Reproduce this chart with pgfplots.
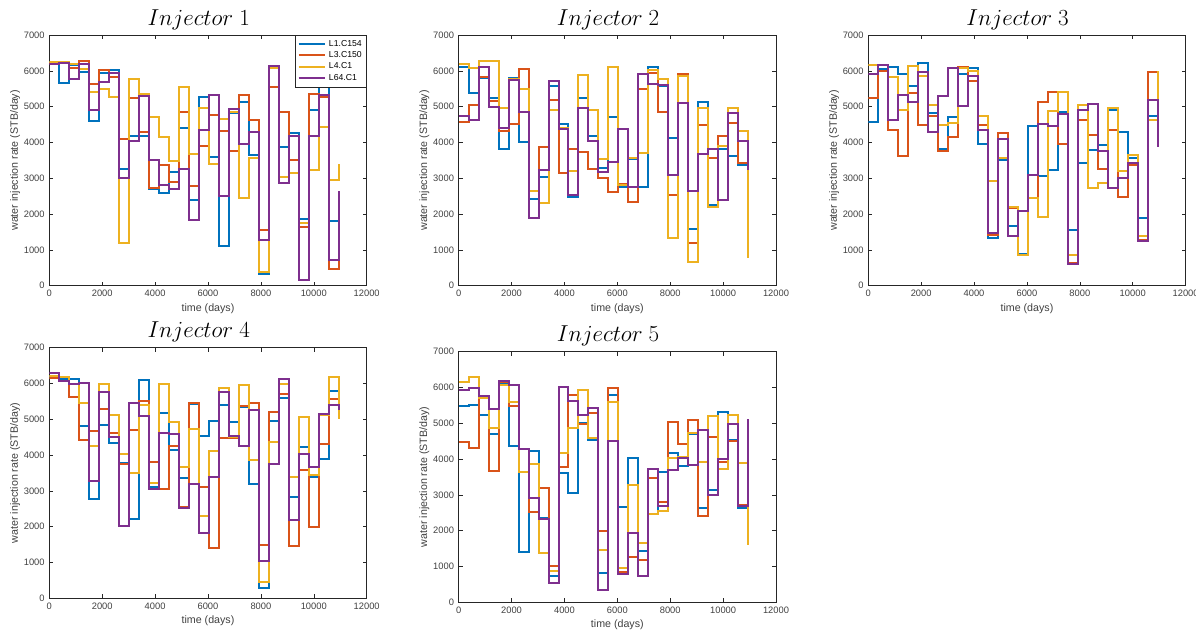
\documentclass[border=0pt]{standalone}
\usepackage[no-math]{fontspec}
\setmainfont{Liberation Sans}
\usepackage{pgfplots}
\pgfplotsset{compat=1.18}
\usepackage{pgfplotstable}

\definecolor{mb}{RGB}{0,114,189}
\definecolor{mr}{RGB}{217,83,25}
\definecolor{my}{RGB}{237,177,32}
\definecolor{mp}{RGB}{126,47,142}
\definecolor{axgray}{RGB}{38,38,38}
\definecolor{labgray}{RGB}{64,64,64}

% columns: time, L1.C154, L3.C150, L4.C1, L64.C1
\pgfplotstableread{
x b r y p
0 6250 6230 6250 6180
378 5650 6230 6250 6230
755 6170 6080 6200 5770
1133 5970 6280 6050 6180
1510 4600 5620 5420 4900
1888 5930 6030 5500 5680
2266 6030 5830 5280 5950
2643 3270 4100 1200 3000
3021 4170 5230 5780 4030
3398 4170 4300 5350 5300
3776 2700 2730 4710 3520
4153 2580 3380 4150 2800
4531 3180 2900 3480 2700
4909 4400 4850 5550 3270
5286 2400 2790 3680 1830
5664 5280 3900 4970 4350
6041 3600 4770 3400 5320
6419 1120 4330 4660 2500
6797 4830 3750 4850 4940
7174 5130 5320 2450 3950
7552 3650 4620 3580 4300
7929 320 1570 380 1280
8307 6100 5550 6080 6130
8684 3870 4840 3050 2870
9062 4270 3520 3160 4170
9440 1860 1640 1760 170
9817 4900 5350 3230 4170
10195 5550 5260 4430 5330
10572 1800 480 2950 720
10950 2650 2650 3400 2650
}\injA

\pgfplotstableread{
x b r y p
0 6100 4570 6200 4740
378 5380 5040 6080 4620
755 5800 5830 6280 6120
1133 5230 5170 6280 5000
1510 3830 4330 4950 4400
1888 5800 4530 5780 5750
2266 4020 6040 5500 4850
2643 2420 1900 2650 1880
3021 3030 3860 2320 3230
3398 5590 5200 4900 5730
3776 4530 3160 4400 4380
4153 2480 3830 3210 2530
4531 5230 3740 5880 4950
4909 4180 3250 4900 4030
5286 3290 3010 3540 3180
5664 4700 2610 6120 3450
6041 2760 2850 2820 4380
6419 3540 2330 3560 2760
6797 2750 5480 3700 5910
7174 6110 5940 6020 5630
7552 5570 4840 5770 5600
7929 4130 2530 1330 3080
8307 5110 5900 5850 5100
8684 1580 1200 650 2640
9062 5140 4500 4970 3690
9440 2250 3570 2190 3820
9817 3820 4190 3900 2400
10195 3620 4550 4970 4830
10572 3380 3440 4330 4050
10950 3300 3300 780 3240
}\injB

\pgfplotstableread{
x b r y p
0 4570 5250 6170 5900
378 6060 6000 6150 6150
755 6100 4340 5820 4620
1133 5920 3610 4920 5330
1510 5580 5380 6130 5130
1888 6220 4480 5860 5960
2266 4830 4740 5050 4280
2643 3820 3760 4480 5290
3021 4720 4140 4550 6080
3398 5900 6110 6080 5030
3776 6090 5710 6000 5850
4153 3960 4490 4740 4340
4531 1320 1420 2920 1460
4909 3520 4260 3570 4100
5286 1680 2180 2200 1400
5664 880 870 870 2090
6041 4470 2460 2460 3100
6419 3070 5130 1910 4510
6797 3240 5400 4880 4470
7174 4850 3960 5400 4790
7552 1570 640 850 600
7929 3440 4630 5040 4910
8307 3790 4220 2730 5080
8684 3930 3250 2870 3770
9062 4900 4350 4950 2730
9440 4280 2480 3190 3000
9817 3570 3370 3660 3420
10195 1880 1290 1380 1260
10572 4750 5980 4620 5190
10950 4000 4650 5990 3870
}\injC

\pgfplotstableread{
x b r y p
0 6180 6150 6220 6280
378 6130 6080 6180 6080
755 6120 5620 5980 5970
1133 4800 4420 5450 6020
1510 2780 4680 4260 3280
1888 4850 5280 5980 5760
2266 4340 4620 5110 4500
2643 3790 3750 4040 2020
3021 2200 4700 3490 5460
3398 6100 5510 5400 5080
3776 3120 3810 3220 3050
4153 5160 3050 5970 4620
4531 4150 4260 4930 4600
4909 3350 2560 3660 2520
5286 5430 5460 4730 3200
5664 4540 3110 2300 1810
6041 4950 1390 4100 3380
6419 5400 4480 5880 5750
6797 4930 4480 4500 4530
7174 5330 5360 5950 4250
7552 3180 5450 3850 5250
7929 290 1490 460 1030
8307 4940 5190 4370 3750
8684 5600 5700 5980 6120
9062 2830 1460 3390 2180
9440 4230 3570 5050 4030
9817 3380 1980 3450 3660
10195 3880 4310 5120 5150
10572 5790 5570 6190 5400
10950 5400 5300 5000 5250
}\injD

\pgfplotstableread{
x b r y p
0 5470 4480 6150 5920
378 5500 4300 6280 5980
755 5240 5760 5700 5750
1133 4700 3670 4880 5390
1510 6100 6150 6080 6180
1888 4370 5470 5580 6080
2266 1410 3650 3640 4290
2643 4220 2510 3870 2900
3021 2350 3200 1380 2320
3398 740 1010 870 550
3776 3600 3780 4160 6000
4153 3060 5780 4860 5620
4531 5000 4990 5920 5240
4909 4530 5280 4580 5420
5286 820 1990 1460 350
5664 5800 5980 5580 4510
6041 2660 840 960 780
6419 4030 1270 3270 1940
6797 1430 1170 1650 730
7174 2460 3460 2460 3720
7552 3640 2800 2540 2680
7929 4180 5030 4040 3700
8307 3800 4410 4050 4030
8684 4700 5100 4740 3840
9062 2640 2420 3920 4800
9440 3140 4620 5200 3000
9817 5310 3920 3720 4010
10195 4540 4490 5240 4980
10572 2640 2710 3900 2680
10950 2650 2650 1600 5130
}\injE

\pgfplotsset{
  inj/.style={
    scale only axis, width=238pt, height=188pt,
    xmin=0, xmax=12000, ymin=0, ymax=7000,
    xtick={0,2000,...,12000}, ytick={0,1000,...,7000},
    scaled ticks=false,
    /pgf/number format/1000 sep={},
    /pgf/number format/assume math mode=true,
    tick label style={font=\fontsize{7}{8}\selectfont, text=labgray},
    label style={font=\fontsize{8}{9}\selectfont, text=labgray},
    xlabel={time (days)}, ylabel={water injection rate (STB/day)},
    ylabel style={yshift=-4pt},
    xlabel style={yshift=2pt},
    axis line style={axgray, line width=0.5pt},
    tick style={axgray, line width=0.4pt},
    major tick length=3pt, tick align=inside,
    title style={font=\fontsize{16}{18}\selectfont, yshift=-5.5pt, xshift=-7pt},
    every axis plot/.append style={const plot, line width=1.5pt, mark=none},
  },
}

\begin{document}
\begin{tikzpicture}
\useasboundingbox (0,0) rectangle (897pt,472.5pt);

\begin{axis}[inj, at={(37pt,258.2pt)}, anchor=south west, title={$Injector\ 1$},
  legend style={at={(1,1)}, anchor=north east, draw=axgray, line width=0.4pt,
    font=\fontsize{6.5}{7.5}\selectfont, inner sep=1.5pt, row sep=-1.5pt},
  legend cell align=left,
  legend image code/.code={\draw[#1] (0pt,0pt) -- (20pt,0pt);}]
\addplot[mb] table[x=x, y=b] {\injA};
\addplot[mr] table[x=x, y=r] {\injA};
\addplot[my] table[x=x, y=y] {\injA};
\addplot[mp] table[x=x, y=p] {\injA};
\legend{L1.C154, L3.C150, L4.C1, L64.C1}
\end{axis}

\begin{axis}[inj, at={(344pt,258.2pt)}, anchor=south west, title={$Injector\ 2$}]
\addplot[mb] table[x=x, y=b] {\injB};
\addplot[mr] table[x=x, y=r] {\injB};
\addplot[my] table[x=x, y=y] {\injB};
\addplot[mp] table[x=x, y=p] {\injB};
\end{axis}

\begin{axis}[inj, at={(651.2pt,258.2pt)}, anchor=south west, title={$Injector\ 3$}]
\addplot[mb] table[x=x, y=b] {\injC};
\addplot[mr] table[x=x, y=r] {\injC};
\addplot[my] table[x=x, y=y] {\injC};
\addplot[mp] table[x=x, y=p] {\injC};
\end{axis}

\begin{axis}[inj, at={(37pt,23.8pt)}, anchor=south west, title={$Injector\ 4$}]
\addplot[mb] table[x=x, y=b] {\injD};
\addplot[mr] table[x=x, y=r] {\injD};
\addplot[my] table[x=x, y=y] {\injD};
\addplot[mp] table[x=x, y=p] {\injD};
\end{axis}

\begin{axis}[inj, at={(344pt,20.8pt)}, anchor=south west, title={$Injector\ 5$}]
\addplot[mb] table[x=x, y=b] {\injE};
\addplot[mr] table[x=x, y=r] {\injE};
\addplot[my] table[x=x, y=y] {\injE};
\addplot[mp] table[x=x, y=p] {\injE};
\end{axis}
\end{tikzpicture}
\end{document}
